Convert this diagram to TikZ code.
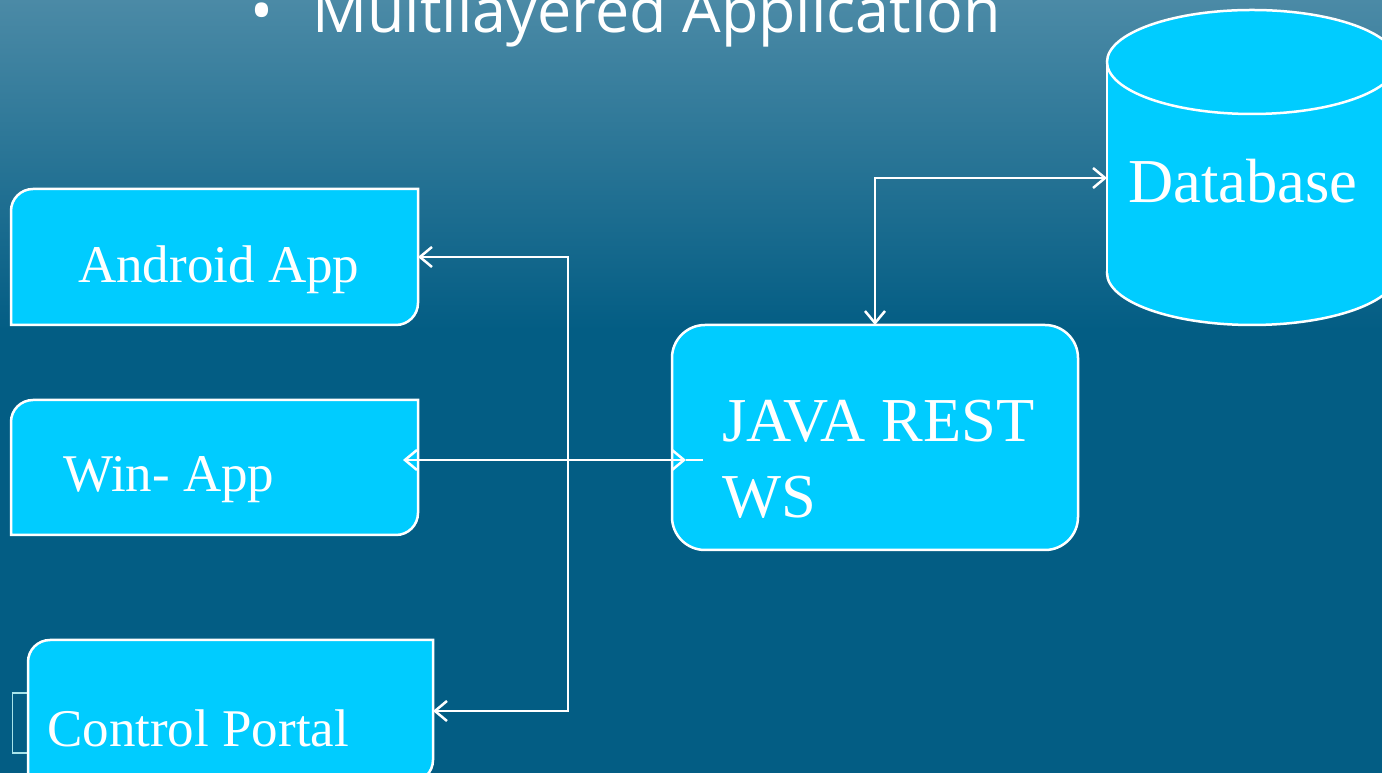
\documentclass[tikz,border=0pt]{standalone}
\usepackage{fontspec}
\setmainfont{Liberation Serif}
\newfontfamily\titlefont{Open Sans}
\usetikzlibrary{arrows.meta,backgrounds}
\definecolor{bgtop}{RGB}{75,138,166}
\definecolor{bgbot}{RGB}{3,93,132}
\definecolor{boxfill}{RGB}{0,204,255}
\definecolor{ghost}{RGB}{168,228,234}
\tikzset{
  shapebox/.style={fill=boxfill, draw=white, line width=2.5pt},
  holder/.style={rectangle, draw=none, inner sep=0pt, outer sep=0pt},
  lbl/.style={anchor=base west, inner sep=0pt, text=white, font=\fontsize{53}{60}\selectfont},
  biglbl/.style={anchor=base west, inner sep=0pt, text=white, font=\fontsize{62.5}{70}\selectfont},
  conn/.style={draw=white, line width=2.5pt},
  tips/.style={arrows={Straight Barb[length=12pt,width=20pt]-Straight Barb[length=12pt,width=20pt]}}
}
\begin{document}
\begin{tikzpicture}[x=1pt,y=1pt]
\useasboundingbox (0,0) rectangle (1382,773);
% holders
\node[holder, minimum width=407pt, minimum height=136pt] (android) at (214.5,516) {};
\node[holder, minimum width=407pt, minimum height=135pt] (win) at (214.5,305.5) {};
\node[holder, minimum width=405pt, minimum height=142pt] (control) at (230.5,62) {};
\node[holder, minimum width=406pt, minimum height=225pt] (java) at (875,335.5) {};
\coordinate (dbL) at (1107,595);
\coordinate (bus) at (568,0);
\coordinate (wt) at (403,313);
\coordinate (jt) at (686,313);
\coordinate (je) at (703,313);
\begin{pgfonlayer}{background}
  \shade[top color=bgtop, bottom color=bgbot] (0,443) rectangle (1382,773);
  \fill[bgbot] (0,0) rectangle (1382,443.5);
  % ghost rectangle
  \draw[ghost, line width=1.5pt] (12.5,20) rectangle (50,80);
  % rounded diagonal boxes
  \draw[shapebox] (android.north east) -- ([xshift=22pt]android.north west) arc[start angle=90,end angle=180,radius=22pt]
     -- (android.south west) -- ([xshift=-22pt]android.south east) arc[start angle=270,end angle=360,radius=22pt] -- cycle;
  \draw[shapebox] (win.north east) -- ([xshift=22pt]win.north west) arc[start angle=90,end angle=180,radius=22pt]
     -- (win.south west) -- ([xshift=-22pt]win.south east) arc[start angle=270,end angle=360,radius=22pt] -- cycle;
  \draw[shapebox] (control.north east) -- ([xshift=22pt]control.north west) arc[start angle=90,end angle=180,radius=22pt]
     -- (control.south west) -- ([xshift=-22pt]control.south east) arc[start angle=270,end angle=360,radius=22pt] -- cycle;
  \draw[shapebox, rounded corners=33pt] (java.south west) rectangle (java.north east);
  % cylinder
  \draw[shapebox] (1252,500) ellipse[x radius=145pt, y radius=52pt];
  \fill[boxfill] (1107,500) rectangle (1397,711);
  \draw[white, line width=2.5pt] (1107,500) -- (1107,711);
  \draw[shapebox] (1252,711) ellipse[x radius=145pt, y radius=52pt];
\end{pgfonlayer}
% title
\node[anchor=base west, inner sep=0pt, text=white, font=\titlefont\fontsize{61}{70}\selectfont] (bullet) at (250,740) {•};
\node[anchor=base west, inner sep=0pt, text=white, font=\titlefont\fontsize{61}{70}\selectfont] (title) at (312,740) {Multilayered Application};
% labels
\node[lbl] (androidT) at (78,490) {Android App};
\node[lbl] (winT) at (63,281) {Win- App};
\node[lbl] (controlT) at (47,26) {Control Portal};
\node[biglbl] (javaT1) at (722,331) {JAVA REST};
\node[biglbl] (javaT2) at (722,255) {WS};
\node[biglbl] (db) at (1128,570) {Database};
% connectors
\draw[conn, tips] (android.east) -- (android.east -| bus) -- (control.east -| bus) -- (control.east);
\draw[conn, tips] (wt) -- (jt);
\draw[conn] (jt) -- (je);
\draw[conn, tips] (java.north) |- (dbL);
\end{tikzpicture}
\end{document}
